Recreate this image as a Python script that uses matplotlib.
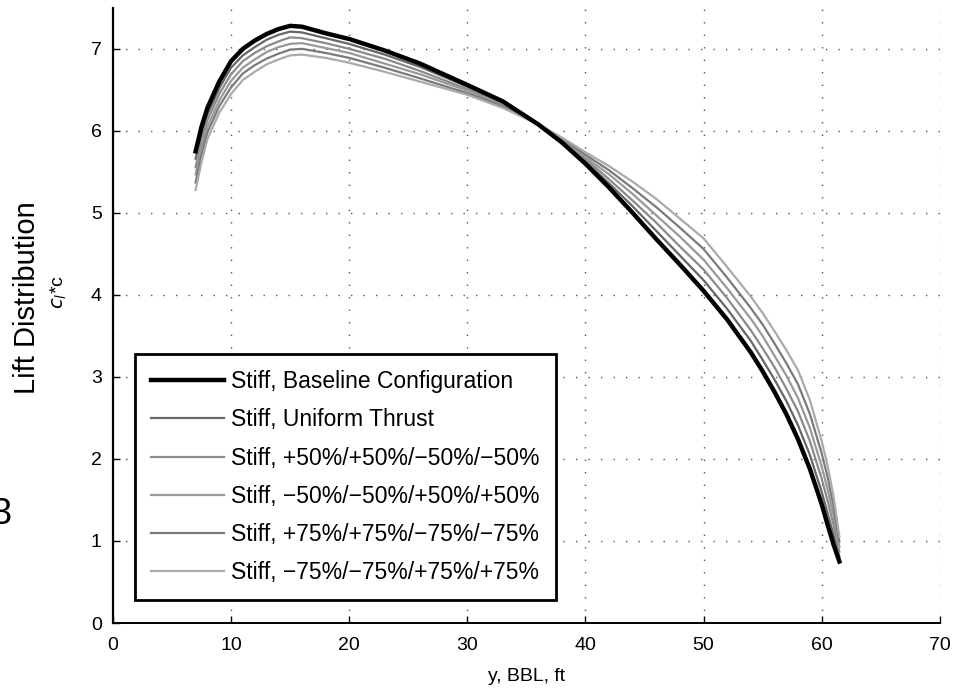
import numpy as np
import matplotlib.pyplot as plt

plt.rcParams['font.family'] = ['Liberation Sans', 'DejaVu Sans']

# spanwise station, ft
y_bbl = [7, 7.5, 8, 9, 10, 11, 12, 13, 14, 15, 16, 18, 20, 23, 26, 30, 33,
         36, 38, 40, 42, 44, 46, 48, 50, 52, 54, 55, 56, 57, 58, 59, 60,
         60.5, 61, 61.5]

# c_l * c for each configuration
baseline = [5.75, 6.05, 6.28, 6.60, 6.85, 7.00, 7.10, 7.18, 7.24, 7.28, 7.27,
            7.19, 7.12, 6.98, 6.82, 6.56, 6.36, 6.08, 5.86, 5.60, 5.31, 5.00,
            4.68, 4.37, 4.05, 3.70, 3.30, 3.07, 2.82, 2.55, 2.24, 1.88, 1.45,
            1.20, 0.96, 0.75]
uniform = [5.66, 5.96, 6.20, 6.52, 6.77, 6.92, 7.02, 7.11, 7.17, 7.21, 7.20,
           7.13, 7.06, 6.93, 6.78, 6.54, 6.34, 6.08, 5.87, 5.63, 5.36, 5.08,
           4.78, 4.48, 4.18, 3.83, 3.44, 3.21, 2.97, 2.71, 2.41, 2.05, 1.60,
           1.34, 1.08, 0.81]
p50 = [5.56, 5.88, 6.13, 6.45, 6.69, 6.85, 6.95, 7.03, 7.09, 7.14, 7.13,
       7.07, 7.00, 6.88, 6.73, 6.51, 6.33, 6.08, 5.88, 5.66, 5.41, 5.15,
       4.88, 4.59, 4.31, 3.96, 3.57, 3.35, 3.12, 2.86, 2.58, 2.22, 1.76,
       1.49, 1.20, 0.87]
m50 = [5.47, 5.79, 6.05, 6.37, 6.61, 6.77, 6.87, 6.96, 7.02, 7.06, 7.07,
       7.01, 6.95, 6.82, 6.69, 6.49, 6.31, 6.08, 5.90, 5.68, 5.47, 5.23,
       4.97, 4.71, 4.43, 4.08, 3.71, 3.50, 3.26, 3.02, 2.74, 2.38, 1.91,
       1.63, 1.31, 0.93]
p75 = [5.37, 5.71, 5.98, 6.30, 6.53, 6.70, 6.80, 6.88, 6.94, 6.99, 7.00,
       6.95, 6.89, 6.77, 6.64, 6.46, 6.30, 6.08, 5.91, 5.71, 5.52, 5.30,
       5.07, 4.82, 4.56, 4.21, 3.84, 3.64, 3.41, 3.17, 2.91, 2.55, 2.07,
       1.78, 1.43, 0.99]
m75 = [5.28, 5.62, 5.90, 6.22, 6.45, 6.62, 6.72, 6.81, 6.87, 6.92, 6.93,
       6.89, 6.83, 6.72, 6.60, 6.44, 6.28, 6.08, 5.92, 5.74, 5.57, 5.38,
       5.17, 4.93, 4.69, 4.34, 3.98, 3.78, 3.56, 3.33, 3.08, 2.72, 2.22,
       1.92, 1.55, 1.05]

labels = ['Stiff, Baseline Configuration',
          'Stiff, Uniform Thrust',
          'Stiff, +50%/+50%/\u221250%/\u221250%',
          'Stiff, \u221250%/\u221250%/+50%/+50%',
          'Stiff, +75%/+75%/\u221275%/\u221275%',
          'Stiff, \u221275%/\u221275%/+75%/+75%']

fig = plt.figure(figsize=(9.57, 6.92), dpi=100)
ax = fig.add_axes([0.118, 0.0997, 0.864, 0.889])

greys = ['#666666', '#8a8a8a', '#999999', '#7a7a7a', '#aaaaaa']
series = [uniform, p50, m50, p75, m75]
handles = []
h0, = ax.plot(y_bbl, baseline, color='black', lw=3.2, zorder=5,
              solid_joinstyle='round')
handles.append(h0)
for s, c in zip(series, greys):
    h, = ax.plot(y_bbl, s, color=c, lw=1.6, zorder=3)
    handles.append(h)

ax.set_xlim(0, 70)
ax.set_ylim(0, 7.5)
ax.set_xticks(np.arange(0, 71, 10))
ax.set_yticks(np.arange(0, 8, 1))
ax.grid(True, color='#555555', linestyle=(0, (1, 8)), lw=1.0)
ax.tick_params(direction='in', length=5, labelsize=14, width=1)
ax.tick_params(axis='x', pad=10)
ax.tick_params(axis='y', pad=8)
ax.spines['top'].set_visible(False)
ax.spines['right'].set_visible(False)
ax.spines['left'].set_linewidth(1.6)
ax.spines['bottom'].set_linewidth(1.4)

leg = ax.legend(handles, labels, loc='lower left',
                bbox_to_anchor=(0.0266, 0.0374), borderaxespad=0,
                fontsize=16.5, handlelength=3.2, handletextpad=0.3,
                labelspacing=0.66, borderpad=0.7,
                fancybox=False, framealpha=1, edgecolor='black')
leg.get_frame().set_linewidth(2)

ax.set_xlabel('y, BBL, ft', fontsize=14, labelpad=10)
fig.text(0.028, 0.57, 'Lift Distribution', rotation=90, fontsize=21,
         ha='center', va='center')
fig.text(0.062, 0.578, '$c_l$*c', rotation=90, fontsize=14,
         ha='center', va='center')
fig.text(-0.009, 0.256, '3', fontsize=26, ha='left', va='center')

fig.savefig('out.png', dpi=100)
